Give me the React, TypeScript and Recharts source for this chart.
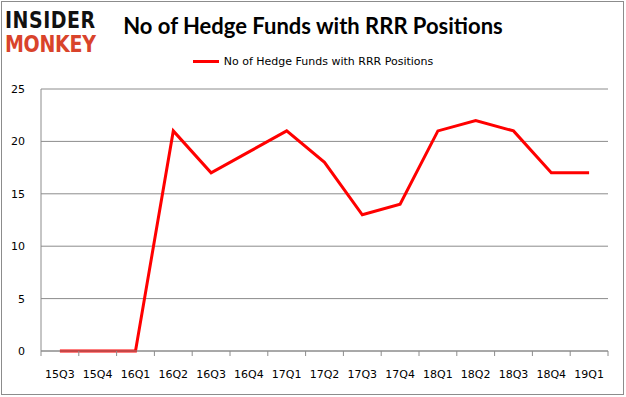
import { LineChart, Line, XAxis, YAxis, CartesianGrid } from 'recharts';

const quarters = ['15Q3', '15Q4', '16Q1', '16Q2', '16Q3', '16Q4', '17Q1', '17Q2', '17Q3', '17Q4', '18Q1', '18Q2', '18Q3', '18Q4', '19Q1'];
const funds = [0, 0, 0, 21, 17, 19, 21, 18, 13, 14, 21, 22, 21, 17, 17];
const yTicks = [0, 5, 10, 15, 20, 25];

const data = quarters.map((q, i) => ({ q, funds: funds[i] }));

const AXIS = '#8c8c8c';
const FONT = '"DejaVu Sans", sans-serif';

// category labels with tick marks on the band edges
const QuarterTick = (props: any) => {
  const { x, y, payload, index } = props;
  const half = payload.offset ?? 0;
  return (
    <g>
      <line x1={x - half} y1={y - 8} x2={x - half} y2={y - 3} stroke={AXIS} />
      {index === quarters.length - 1 && (
        <line x1={x + half} y1={y - 8} x2={x + half} y2={y - 3} stroke={AXIS} />
      )}
      <text x={x} y={y + 19} textAnchor="middle" fontSize={11} fontFamily={FONT} fill="#000">
        {payload.value}
      </text>
    </g>
  );
};

export default function App() {
  return (
    <div style={{ position: 'absolute', left: 0, top: 0, width: 626, height: 397, background: '#fff' }}>
      <div style={{ position: 'absolute', left: 1, top: 1, width: 621, height: 392, border: '1px solid #8c8c8c' }} />
      {/* logo */}
      <div style={{ position: 'absolute', left: 5, top: 8, fontFamily: FONT, fontWeight: 900, lineHeight: '20px', transform: 'scaleY(1.2)', transformOrigin: 'top left' }}>
        <div style={{ fontSize: 19, color: '#111', letterSpacing: 0.5 }}>INSIDER</div>
        <div style={{ fontSize: 19, color: '#d9432b', letterSpacing: -0.3 }}>MONKEY</div>
      </div>
      <div style={{ position: 'absolute', left: 0, width: 626, top: 12, textAlign: 'center', fontFamily: 'Lato, sans-serif', fontWeight: 700, fontSize: 22, color: '#000' }}>
        No of Hedge Funds with RRR Positions
      </div>
      <div style={{ position: 'absolute', left: 0, width: 626, top: 55, display: 'flex', alignItems: 'center', justifyContent: 'center', fontFamily: FONT, fontSize: 11, color: '#000' }}>
        <div style={{ width: 26, height: 3, background: '#ff0000', marginRight: 5 }} />
        <span>No of Hedge Funds with RRR Positions</span>
      </div>
      <LineChart width={626} height={397} data={data} margin={{ top: 89, right: 18, left: 0, bottom: 0 }} style={{ position: 'absolute', left: 0, top: 0 }}>
        <CartesianGrid vertical={false} stroke={AXIS} />
        <XAxis dataKey="q" scale="band" height={46} axisLine={{ stroke: AXIS }} tickLine={false} interval={0} tick={<QuarterTick />} />
        <YAxis
          width={41}
          domain={[0, 25]}
          ticks={yTicks}
          axisLine={{ stroke: AXIS }}
          tickLine={false}
          tickMargin={10}
          tick={{ fontSize: 11, fontFamily: FONT, fill: '#000' }}
        />
        <Line type="linear" dataKey="funds" stroke="#ff0000" strokeWidth={3} dot={false} isAnimationActive={false} />
      </LineChart>
    </div>
  );
}
